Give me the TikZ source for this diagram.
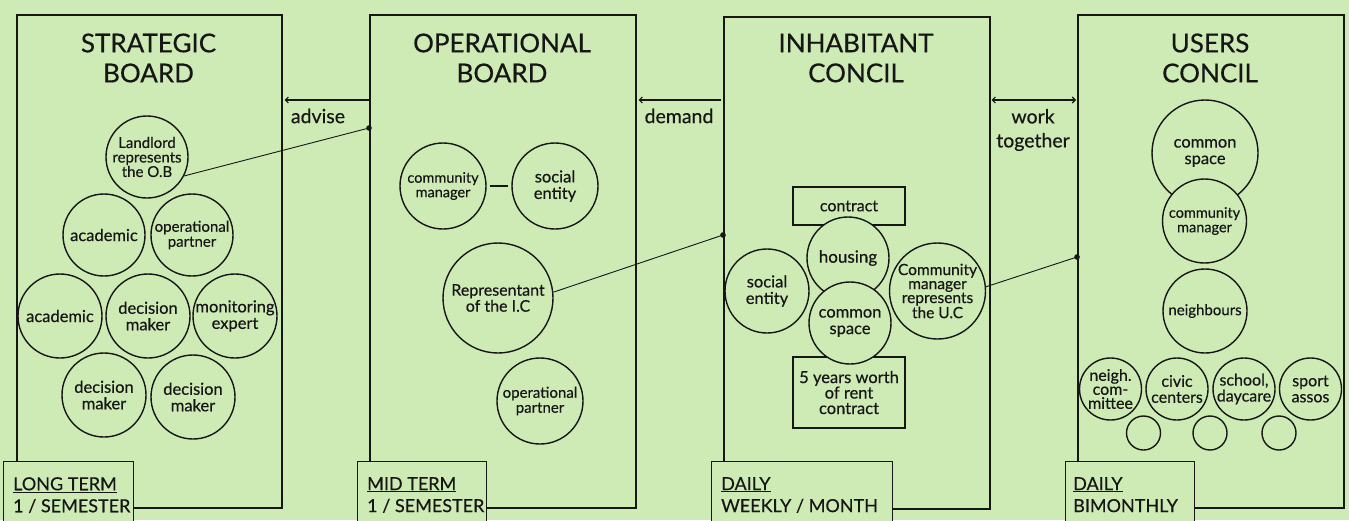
\documentclass[tikz,border=0pt]{standalone}
\usepackage{fontspec}
\setmainfont{Lato}[UprightFeatures={FakeBold=0.4}]
\usetikzlibrary{arrows.meta}
\definecolor{bg}{RGB}{206,235,182}
\definecolor{ink}{RGB}{22,22,22}
\begin{document}
\begin{tikzpicture}[x=1pt,y=-1pt,
  panel/.style={draw=ink, line width=1.6pt, fill=bg, rectangle, inner sep=0pt, anchor=north west},
  tbox/.style={draw=ink, line width=1.4pt, fill=bg, rectangle, inner sep=0pt, anchor=north west},
  ttext/.style={font=\fontsize{18}{22}\selectfont, align=left, text=ink, inner sep=0pt, anchor=north west},
  title/.style={font=\fontsize{26}{30}\selectfont, align=center, text=ink, inner sep=0pt},
  circ/.style={circle, draw=ink, line width=1.4pt, fill=bg, inner sep=0pt, minimum size=#1},
  ct/.style={font=\fontsize{#1}{#1}\selectfont, align=center, text=ink, inner sep=0pt},
  rbox/.style={rectangle, draw=ink, line width=1.4pt, fill=bg, inner sep=0pt, align=center, text=ink},
  alab/.style={font=\fontsize{19.5}{24}\selectfont, align=center, text=ink, inner sep=0pt},
  arr/.style={draw=ink, line width=1.1pt, -{Straight Barb[length=3pt,width=6pt]}},
  darr/.style={draw=ink, line width=1.1pt, {Straight Barb[length=3pt,width=6pt]}-{Straight Barb[length=3pt,width=6pt]}},
  conn/.style={draw=ink, line width=0.9pt},
  dotst/.style={fill=ink}
]
\useasboundingbox (0,0) rectangle (1349,520);
\clip (0,0) rectangle (1349,520);
\fill[bg] (0,0) rectangle (1349,520);

% panels
\node[panel, minimum width=265, minimum height=493] (p1) at (16,14) {};
\node[panel, minimum width=266, minimum height=493] (p2) at (369,14) {};
\node[panel, minimum width=266, minimum height=492] (p3) at (723,16) {};
\node[panel, minimum width=266, minimum height=493] (p4) at (1077,14) {};

% titles
\node[title] (t1) at (148.5,58) {STRATEGIC\\BOARD};
\node[title] (t2) at (502,58) {OPERATIONAL\\BOARD};
\node[title] (t3) at (856,58) {INHABITANT\\CONCIL};
\node[title] (t4) at (1210,58) {USERS\\CONCIL};

% arrows between panels
\coordinate (ay) at (0,100);
\draw[arr] (p2.west |- ay) -- ([xshift=2pt]p1.east |- ay);
\draw[arr] ([xshift=-2pt]p3.west |- ay) -- ([xshift=2pt]p2.east |- ay);
\draw[darr] ([xshift=1pt]p3.east |- ay) -- ([xshift=-1pt]p4.west |- ay);
\node[alab] (adv) at (318,116) {advise};
\node[alab] (dem) at (679,116) {demand};
\node[alab] (wt) at (1033,130) {work\\together};

% strategic board
\node[circ=82, label={[font=\fontsize{15}{14.5}\selectfont, align=center, text=ink, inner sep=0pt]center:Landlord\\represents\\the O.B}] (land) at (147,157) {};
\node[circ=82, label={[ct=16.5]center:academic}] (ac1) at (104,235) {};
\node[circ=82, label={[ct=15]center:operational\\partner}] (op1) at (192,235) {};
\node[circ=84, label={[ct=16.5]center:academic}] (ac2) at (60,316) {};
\node[circ=84, label={[ct=16.5]center:decision\\maker}] (dm1) at (148,316) {};
\node[circ=84, label={[ct=16.5]center:monitoring\\expert}] (mon) at (235,316) {};
\node[circ=84, label={[ct=16.5]center:decision\\maker}] (dm2) at (104,395) {};
\node[circ=84, label={[ct=16.5]center:decision\\maker}] (dm3) at (193,397) {};

% operational board
\node[circ=86, label={[ct=14.5]center:community\\manager}] (cm) at (443,186) {};
\node[circ=86, label={[ct=16.5]center:social\\entity}] (se) at (555,186) {};
\draw[conn, line width=1.3pt, shorten <=3pt, shorten >=3pt] (cm) -- (se);
\node[circ=110, label={[ct=16]center:Representant\\of the I.C}] (rep) at (498,298) {};
\node[circ=86, label={[ct=15]center:operational\\partner}] (op2) at (540,401) {};

% inhabitant council
\node[rbox, minimum width=112, minimum height=38, font=\fontsize{16}{16}\selectfont] (contract) at (849,206) {contract};
\node[rbox, minimum width=112, minimum height=71, font=\fontsize{16.5}{15.5}\selectfont] (fiveyr) at (849,392.5) {5 years worth\\of rent\\contract};
\node[circ=82, label={[ct=17]center:housing}] (hous) at (848,258) {};
\node[circ=84, label={[ct=16.5]center:social\\entity}] (se2) at (767,291) {};
\node[circ=82, label={[ct=16.5]center:common\\space}] (cs) at (850,323) {};
\node[circ=96, label={[font=\fontsize{15.5}{14}\selectfont, align=center, text=ink, inner sep=0pt]center:Community\\manager\\represents\\the U.C}] (cmuc) at (937.5,291) {};

% users council
\node[circ=106, label={[ct=16.5]center:common\\space}] (cs2) at (1205,153) {};
\node[circ=84, label={[ct=14.5]center:community\\manager}] (cm2) at (1204.5,221) {};
\node[circ=84, label={[ct=15]center:neighbours}] (nb) at (1205,311) {};
\node[circ=62, label={[font=\fontsize{16}{14}\selectfont, align=center, text=ink, inner sep=0pt]center:neigh.\\com-\\mittee}] (nc) at (1110.5,389) {};
\node[circ=62, label={[ct=16]center:civic\\centers}] (cc) at (1177,389) {};
\node[circ=62, label={[ct=16]center:{school,\\daycare}}] (sd) at (1244,389) {};
\node[circ=62, label={[ct=16]center:sport\\assos}] (sa) at (1310.5,389) {};
\node[circ=34] (s1) at (1143.5,433) {};
\node[circ=34] (s2) at (1210,433) {};
\node[circ=34] (s3) at (1279,433) {};

% representation links
\coordinate (dot1) at (369,128);
\coordinate (dot2) at (723,235);
\coordinate (dot3) at (1077,257);
\draw[conn] (dot1) -- (land.-27);
\draw[conn] (dot2) -- (rep.6);
\draw[conn] (dot3) -- (cmuc.5);
\fill[dotst] (dot1) circle (2.8);
\fill[dotst] (dot2) circle (2.8);
\fill[dotst] (dot3) circle (2.8);

% time boxes
\node[tbox, minimum width=130, minimum height=70] (b1) at (3,461) {};
\node[tbox, minimum width=129, minimum height=70] (b2) at (357,461) {};
\node[tbox, minimum width=181, minimum height=70] (b3) at (711,461) {};
\node[tbox, minimum width=129, minimum height=70] (b4) at (1065,461) {};
\node[ttext] (l1) at (13,477) {\underline{LONG TERM}\\1 / SEMESTER};
\node[ttext] (l2) at (367,477) {\underline{MID TERM}\\1 / SEMESTER};
\node[ttext] (l3) at (721,477) {\underline{DAILY}\\WEEKLY / MONTH};
\node[ttext] (l4) at (1073,477) {\underline{DAILY}\\BIMONTHLY};
\end{tikzpicture}
\end{document}
